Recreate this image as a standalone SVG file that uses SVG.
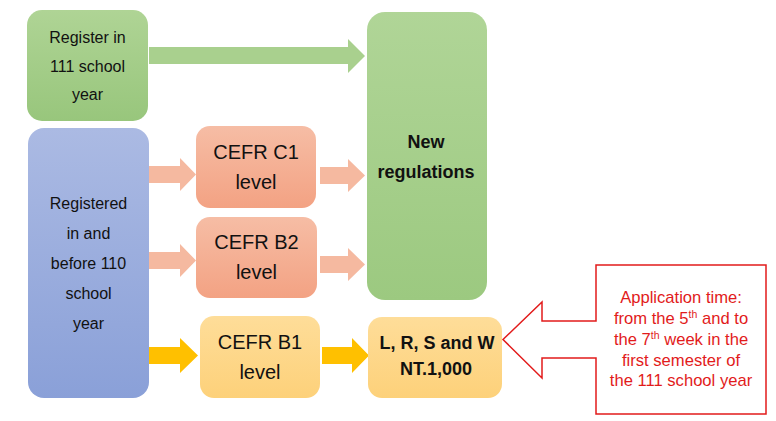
<svg xmlns="http://www.w3.org/2000/svg" width="776" height="421" viewBox="0 0 776 421">
<defs>
<linearGradient id="gGreen" x1="0" y1="0" x2="0" y2="1"><stop offset="0" stop-color="#afd495"/><stop offset="1" stop-color="#98c67c"/></linearGradient>
<linearGradient id="gGreen2" x1="0" y1="0" x2="0" y2="1"><stop offset="0" stop-color="#b0d597"/><stop offset="1" stop-color="#9cc980"/></linearGradient>
<linearGradient id="gBlue" x1="0" y1="0" x2="0" y2="1"><stop offset="0" stop-color="#abbae3"/><stop offset="1" stop-color="#8aa0d8"/></linearGradient>
<linearGradient id="gPink" x1="0" y1="0" x2="0" y2="1"><stop offset="0" stop-color="#f6bda5"/><stop offset="1" stop-color="#f3a283"/></linearGradient>
<linearGradient id="gYellow" x1="0" y1="0" x2="0" y2="1"><stop offset="0" stop-color="#fedd99"/><stop offset="1" stop-color="#fdd17a"/></linearGradient>
</defs>
<style>
text{font-family:"Liberation Sans",Arial,sans-serif;text-anchor:middle;fill:#111}
.t16{font-size:16px}
.t20{font-size:20px}
.b18{font-size:18px;font-weight:bold}
.red{font-size:16.6px;fill:#e21b1b}
.sup{font-size:10.5px}
.pink{fill:#f5b9a0}
.yel{fill:#ffc000}
.grn{fill:#a9d08e}
</style>
<g id="connectors">
<polygon class="grn" points="149,47 348,47 348,39 365,56 348,73 348,64 149,64"/>
<polygon class="pink" points="149,166 180,166 180,158 196,174.5 180,191 180,183 149,183"/>
<polygon class="pink" points="320,167 348,167 348,159 365,175.5 348,192 348,184 320,184"/>
<polygon class="pink" points="149,252 180,252 180,244 196,260.5 180,277 180,269 149,269"/>
<polygon class="pink" points="320,256 348,256 348,248 365,264.5 348,281 348,273 320,273"/>
<polygon class="yel" points="149,347 180,347 180,338 198,355.5 180,373 180,364 149,364"/>
<polygon class="yel" points="322,347 352,347 352,338 369,355.5 352,373 352,364 322,364"/>
</g>
<g id="register111">
<rect x="27" y="10" width="121" height="111" rx="15" fill="url(#gGreen)"/>
<text class="t16" x="87.5" y="43">Register in</text>
<text class="t16" x="87.5" y="72">111 school</text>
<text class="t16" x="87.5" y="100">year</text>
</g>
<g id="newRegulations">
<rect x="367" y="12" width="120" height="288" rx="18" fill="url(#gGreen2)"/>
<text class="b18" x="426" y="148">New</text>
<text class="b18" x="426" y="178">regulations</text>
</g>
<g id="registered110">
<rect x="28" y="128" width="121" height="270" rx="16" fill="url(#gBlue)"/>
<text class="t16" x="88.5" y="209">Registered</text>
<text class="t16" x="88.5" y="239">in and</text>
<text class="t16" x="88.5" y="269">before 110</text>
<text class="t16" x="88.5" y="299">school</text>
<text class="t16" x="88.5" y="329">year</text>
</g>
<g id="c1">
<rect x="196" y="126" width="120" height="82" rx="14" fill="url(#gPink)"/>
<text class="t20" x="256" y="159">CEFR C1</text>
<text class="t20" x="256" y="189">level</text>
</g>
<g id="b2">
<rect x="196" y="217" width="121" height="81" rx="14" fill="url(#gPink)"/>
<text class="t20" x="256.5" y="249">CEFR B2</text>
<text class="t20" x="256.5" y="279">level</text>
</g>
<g id="b1">
<rect x="200" y="316" width="120" height="82" rx="14" fill="url(#gYellow)"/>
<text class="t20" x="260" y="349">CEFR B1</text>
<text class="t20" x="260" y="379">level</text>
</g>
<g id="lrsw">
<rect x="368" y="317" width="134" height="81" rx="14" fill="url(#gYellow)"/>
<text class="b18" x="437" y="349">L, R, S and W</text>
<text class="b18" x="436" y="375">NT.1,000</text>
</g>
<g id="callout">
<polygon points="596,265 766,265 766,414 596,414 596,358 542,358 542,378 503,339.5 542,302 542,321 596,321" fill="#fff" stroke="#e21b1b" stroke-width="1.5"/>
<text class="red" x="681" y="302.5">Application time:</text>
<text class="red" x="681" y="323.5">from the 5<tspan class="sup" dy="-6">th</tspan><tspan dy="6"> and to</tspan></text>
<text class="red" x="681" y="344.5">the 7<tspan class="sup" dy="-6">th</tspan><tspan dy="6"> week in the</tspan></text>
<text class="red" x="681" y="365.5">first semester of</text>
<text class="red" x="681" y="386">the 111 school year</text>
</g>
</svg>
